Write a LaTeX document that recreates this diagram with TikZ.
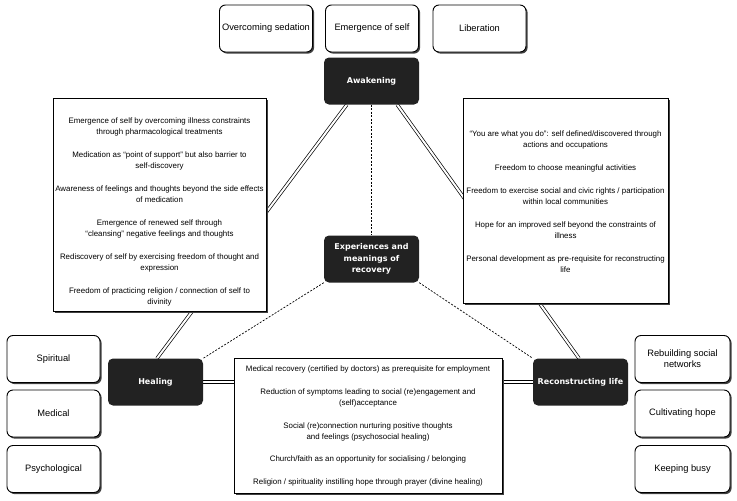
\documentclass[tikz,border=0pt]{standalone}
\usepackage{fontspec}
\setmainfont{Liberation Sans}
\newfontfamily\darkfont{DejaVu Sans}
\usetikzlibrary{shadows,calc}
\definecolor{dark}{HTML}{222222}
\pgfdeclarelayer{bg}
\pgfsetlayers{bg,main}
\begin{document}
\begin{tikzpicture}[x=1pt,y=-1pt,
  darkbox/.style={fill=dark, rounded corners=5pt, text=white, font=\darkfont\bfseries\fontsize{8}{11.5}\selectfont, align=center, minimum width=95pt, minimum height=47pt, inner sep=2pt},
  softbox/.style={draw, line width=0.9pt, rounded corners=6pt, fill=white, drop shadow={shadow xshift=1.6pt, shadow yshift=-1.6pt, fill=black!75, opacity=1}, font=\fontsize{9.3}{11}\selectfont, align=center, minimum width=93pt, minimum height=47pt, inner sep=1pt},
  textbox/.style={draw, line width=0.8pt, fill=white, drop shadow={shadow xshift=1.8pt, shadow yshift=-1.8pt, fill=black!75, opacity=1}, font=\fontsize{7.9}{11}\selectfont, align=center, inner sep=1pt},
  boxtext/.style={font=\fontsize{7.9}{11}\selectfont, align=center, inner sep=0pt},
  dbl/.style={double, double distance=2pt, line width=0.7pt},
  dsh/.style={line width=0.7pt, dash pattern=on 2pt off 1.5pt}]
\useasboundingbox (0,0) rectangle (737,501);

% top boxes
\node[softbox] (sed) at (266,28.5) {Overcoming sedation};
\node[softbox] (eself) at (372,28.5) {Emergence of self};
\node[softbox] (lib) at (479.5,28.5) {Liberation};

% dark boxes
\node[darkbox] (awk) at (371.5,81) {Awakening};
\node[darkbox] (exp) at (371.5,259) {Experiences and\\meanings of\\recovery};
\node[darkbox] (heal) at (155.5,382) {Healing};
\node[darkbox] (rec) at (580.5,382) {Reconstructing life};

% left small boxes
\node[softbox] (spir) at (53.5,359) {Spiritual};
\node[softbox] (med) at (53.5,413.5) {Medical};
\node[softbox] (psy) at (53.5,469) {Psychological};

% right small boxes
\node[softbox, minimum width=95pt] (rsn) at (682.5,359) {Rebuilding social\\networks};
\node[softbox, minimum width=95pt] (hope) at (682.5,413.5) {Cultivating hope};
\node[softbox, minimum width=95pt] (busy) at (682.5,469) {Keeping busy};

% text boxes
\node[textbox, minimum width=213pt, minimum height=213pt] (lbox) at (159.5,204.5) {};
\node[boxtext] (ltext) at ($(lbox.center)+(0,7)$) {%
Emergence of self by overcoming illness constraints\\through pharmacological treatments\\[12pt]
Medication as “point of support” but also barrier to\\self-discovery\\[12pt]
Awareness of feelings and thoughts beyond the side effects\\of medication\\[12pt]
Emergence of renewed self through\\“cleansing” negative feelings and thoughts\\[12pt]
Rediscovery of self by exercising freedom of thought and\\expression\\[12pt]
Freedom of practicing religion / connection of self to\\divinity};

\node[textbox, minimum width=205pt, minimum height=205pt] (rbox) at (565.5,200.5) {};
\node[boxtext] (rtext) at ($(rbox.center)+(0,1.5)$) {%
“You are what you do”: self defined/discovered through\\actions and occupations\\[12pt]
Freedom to choose meaningful activities\\[12pt]
Freedom to exercise social and civic rights / participation\\within local communities\\[12pt]
Hope for an improved self beyond the constraints of\\illness\\[12pt]
Personal development as pre-requisite for reconstructing\\life};

\node[textbox, minimum width=268pt, minimum height=135pt] (bbox) at (368,425.5) {};
\node[boxtext] (btext) at (bbox.center) {%
Medical recovery (certified by doctors) as prerequisite for employment\\[12pt]
Reduction of symptoms leading to social (re)engagement and\\(self)acceptance\\[12pt]
Social (re)connection nurturing positive thoughts\\and feelings (psychosocial healing)\\[11pt]
Church/faith as an opportunity for socialising / belonging\\[12pt]
Religion / spirituality instilling hope through prayer (divine healing)};

% connectors
\begin{pgfonlayer}{bg}
\draw[dbl] ([xshift=23pt]awk.south west) -- ([xshift=1.5pt]heal.north);
\draw[dbl] ([xshift=-22pt]awk.south east) -- ([xshift=-1.5pt]rec.north);
\draw[dbl] (heal.east) -- (rec.west);
\draw[dsh] (awk.south) -- (exp.north);
\draw[dsh] (exp.south west) -- (heal.north east);
\draw[dsh] (exp.south east) -- (rec.north west);
\end{pgfonlayer}
\end{tikzpicture}
\end{document}
